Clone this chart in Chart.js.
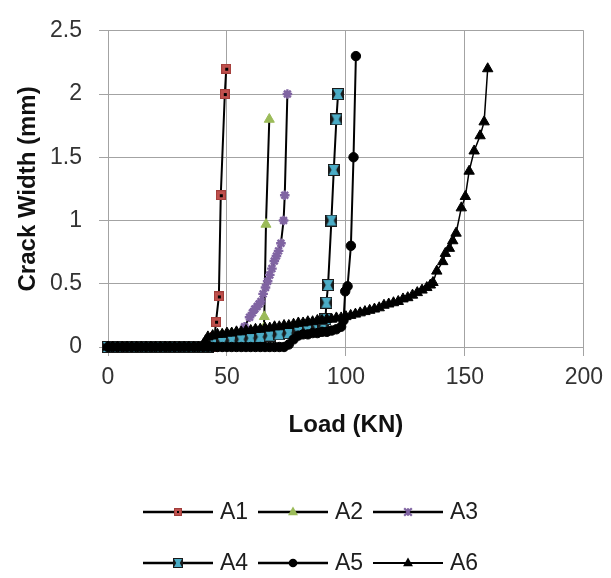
<!DOCTYPE html>
<html><head><meta charset="utf-8">
<script src="https://cdn.jsdelivr.net/npm/chart.js@4/dist/chart.umd.min.js"></script>
<style>html,body{margin:0;padding:0;background:#fff}#wrap{width:611px;height:578px;position:relative}</style>
</head><body><div id="wrap"><canvas id="c" width="611" height="578"></canvas></div>
<script>
// ---- data ----
const seriesNames = ['A1','A2','A3','A4','A5','A6'];
const xTicks = [0,50,100,150,200];
const yTicks = [0,0.5,1,1.5,2,2.5];
const xTitle = 'Load (KN)';
const yTitle = 'Crack Width (mm)';

const a1Load  = [0,3,6,9,12,15,18,21,24,27,30,33,36,39,42,44,44.8,45.4,46.6,47.4,49.1,49.7];
const a1Width = [0,0,0,0,0,0,0,0,0,0,0,0,0,0,0,0,0.08,0.2,0.4,1.2,2.0,2.2];

const a2Load  = [0,4,8,12,16,20,24,28,32,36,40,42,44,48,52,56,60,64,65.5,65.7,66.4,67.8];
const a2Width = [0,0,0,0,0,0,0,0,0,0,0,0.04,0.08,0.1,0.11,0.12,0.13,0.14,0.15,0.24,0.97,1.8];

const a3Load  = [0,4,8,12,16,20,24,28,32,36,40,44,48,52,56,57.4,59.5,60.7,61.7,62.7,63.5,64.3,65.2,66.2,67.1,68,68.9,69.9,70.8,71.7,72.7,73.8,74.3,75.4];
const a3Width = [0,0,0,0,0,0,0,0,0,0,0,0,0,0.05,0.1,0.16,0.235,0.27,0.3,0.32,0.34,0.36,0.42,0.47,0.52,0.57,0.62,0.68,0.72,0.76,0.82,1.0,1.2,2.0];

const a4Load  = [0,3,6,9,12,15,18,21,24,27,30,33,36,39,42,45,48,52,56,60,64,68,72,76,80,84,88,90.5,91.4,91.8,92.5,93.9,94.9,96,96.7];
const a4Width = [0,0,0,0,0,0,0,0,0,0,0,0,0,0,0,0.02,0.04,0.05,0.06,0.07,0.08,0.09,0.1,0.11,0.12,0.13,0.15,0.17,0.22,0.35,0.49,1.0,1.4,1.8,2.0];

const a5Load  = [0,2,4,6,8,10,12,14,16,18,20,22,24,26,28,30,32,34,36,38,40,42,44,46,48,50,52,54,56,58,60,62,64,66,68,70,72,74,
                 76,78,80,82,84,86,88,90,92,94,96,98,99,99.7,100.7,102.1,103.2,104.2];
const a5Width = [0,0,0,0,0,0,0,0,0,0,0,0,0,0,0,0,0,0,0,0,0,0,0,0,0,0,0,0,0,0,0,0,0,0,0,0,0,0,
                 0.02,0.06,0.09,0.1,0.1,0.11,0.11,0.12,0.12,0.13,0.14,0.16,0.21,0.44,0.48,0.8,1.5,2.3];

const a6Load  = [0,2,4,6,8,10,12,14,16,18,20,22,24,26,28,30,32,34,36,38,40,41,42,
                 44,46,48,50,52,54,56,58,60,62,64,66,68,70,72,74,76,78,80,82,84,86,88,90,92,94,96,98,100,102,
                 104,106,108,110,112,114,116,118,120,122,124,126,128,130,132,134,
                 135.5,136.6,138.2,140.7,141.8,143.5,144.9,146.3,148.5,150.2,151.8,153.9,156.4,158.1,159.6];
const a6Width = [0,0,0,0,0,0,0,0,0,0,0,0,0,0,0,0,0,0,0,0,0.02,0.05,0.08,
                 0.09,0.1,0.1,0.11,0.11,0.12,0.12,0.13,0.13,0.14,0.14,0.15,0.15,0.16,0.16,0.17,0.17,0.18,0.19,0.19,0.2,0.2,0.21,0.21,0.22,0.22,0.23,0.23,0.24,0.25,
                 0.26,0.27,0.28,0.29,0.3,0.31,0.33,0.34,0.35,0.36,0.38,0.39,0.41,0.43,0.45,0.47,
                 0.49,0.51,0.6,0.675,0.74,0.78,0.84,0.9,1.1,1.19,1.39,1.55,1.67,1.78,2.2];

// ---- helpers ----
function pts(xs, ys){ const n = Math.min(xs.length, ys.length); const out=[]; for(let i=0;i<n;i++) out.push({x:xs[i], y:ys[i]}); return out; }

function markerA1(s){
  const c=document.createElement('canvas'); c.width=c.height=s; const g=c.getContext('2d');
  g.fillStyle='#C0504D'; g.fillRect(0,0,s,s);
  g.strokeStyle='#a03d3a'; g.lineWidth=1; g.strokeRect(0.5,0.5,s-1,s-1);
  g.fillStyle='#000'; const d=Math.max(2,Math.round(s/4)); g.fillRect(Math.round((s-d)/2),Math.round((s-d)/2),d,d);
  return c;
}
function markerA4(s){
  const c=document.createElement('canvas'); c.width=c.height=s; const g=c.getContext('2d');
  g.fillStyle='#1a1a1a'; g.fillRect(0,0,s,s);
  g.fillStyle='#4BACC6';
  g.beginPath(); g.moveTo(1,1); g.lineTo(s-1,1); g.lineTo(s-1-s*0.22,s/2); g.lineTo(s-1,s-1); g.lineTo(1,s-1); g.lineTo(1+s*0.22,s/2); g.closePath(); g.fill();
  return c;
}
const mA1 = markerA1(10), mA4 = markerA4(12);
const lA1 = markerA1(8), lA4 = markerA4(10);

const FONT = "'Liberation Sans', Arial, Helvetica, sans-serif";
const GRID = '#a3a3a3';

const datasets = [
  {label:seriesNames[0], data:pts(a1Load,a1Width), pointStyle:mA1, pointRadius:5, borderColor:'#000', borderWidth:2, order:6},
  {label:seriesNames[1], data:pts(a2Load,a2Width), pointStyle:'triangle', pointRadius:5.8, pointBackgroundColor:'#9BBB59', pointBorderColor:'#9BBB59', pointBorderWidth:1, borderColor:'#000', borderWidth:2, order:5},
  {label:seriesNames[2], data:pts(a3Load,a3Width), pointStyle:'star', pointRadius:4.8, pointBackgroundColor:'#8064A2', pointBorderColor:'#8064A2', pointBorderWidth:2.4, borderColor:'#000', borderWidth:2, order:4},
  {label:seriesNames[3], data:pts(a4Load,a4Width), pointStyle:mA4, pointRadius:6, borderColor:'#000', borderWidth:2, order:3},
  {label:seriesNames[4], data:pts(a5Load,a5Width), pointStyle:'circle', pointRadius:4.7, pointBackgroundColor:'#000', pointBorderColor:'#000', pointBorderWidth:1, borderColor:'#000', borderWidth:2, order:2},
  {label:seriesNames[5], data:pts(a6Load,a6Width), pointStyle:'triangle', pointRadius:6, pointBackgroundColor:'#000', pointBorderColor:'#000', pointBorderWidth:1, borderColor:'#000', borderWidth:1.5, order:1}
];
datasets.forEach(d=>{ d.showLine=true; d.tension=0; d.clip=false; d.pointHoverRadius=d.pointRadius; });

// custom legend: line with marker in the middle, two rows of three
const legendPlugin = {
  id:'lineLegend',
  afterDraw(chart){
    const ctx=chart.ctx; const rows=[512,563]; const cols=[143,258,373]; const len=70;
    ctx.save();
    chart.data.datasets.forEach((ds,i)=>{
      const x0=cols[i%3], y=rows[Math.floor(i/3)], xm=x0+len/2;
      ctx.strokeStyle='#000'; ctx.lineWidth = (i===5)?2:2.6;
      ctx.beginPath(); ctx.moveTo(x0,y); ctx.lineTo(x0+len,y); ctx.stroke();
      if(i===0){ ctx.drawImage(lA1, xm-lA1.width/2, y-lA1.height/2); }
      else if(i===3){ ctx.drawImage(lA4, xm-lA4.width/2, y-lA4.height/2); }
      else if(i===1 || i===5){
        const r=5.5; ctx.fillStyle = i===1?'#9BBB59':'#000';
        ctx.beginPath(); ctx.moveTo(xm,y-r); ctx.lineTo(xm+r*0.9,y+r*0.6); ctx.lineTo(xm-r*0.9,y+r*0.6); ctx.closePath(); ctx.fill();
      } else if(i===2){
        ctx.strokeStyle='#8064A2'; ctx.lineWidth=2.2; const r=3.8;
        ctx.beginPath(); ctx.moveTo(xm-r,y-r); ctx.lineTo(xm+r,y+r); ctx.moveTo(xm+r,y-r); ctx.lineTo(xm-r,y+r);
        ctx.moveTo(xm,y-r); ctx.lineTo(xm,y+r); ctx.stroke();
      } else if(i===4){
        ctx.fillStyle='#000'; ctx.beginPath(); ctx.arc(xm,y,4.3,0,Math.PI*2); ctx.fill();
      }
      ctx.fillStyle='#1e1e1e'; ctx.font='23px '+FONT; ctx.textBaseline='middle'; ctx.textAlign='left';
      ctx.fillText(ds.label, x0+len+7, y+1);
    });
    ctx.restore();
  }
};

new Chart(document.getElementById('c'), {
  type:'scatter',
  data:{datasets},
  plugins:[legendPlugin],
  options:{
    responsive:false, animation:false, devicePixelRatio:1,
    layout:{padding:{left:0, right:22, top:25, bottom:130}},
    plugins:{legend:{display:false}, tooltip:{enabled:false}},
    scales:{
      x:{
        type:'linear', min:0, max:200,
        afterFit(s){ s.height = 101; },
        afterBuildTicks(s){ s.ticks = xTicks.map(v=>({value:v})); },
        ticks:{ color:'#333', font:{family:FONT, size:23}, padding:8, maxRotation:0, autoSkip:false, callback:v=>String(v) },
        grid:{ color:GRID, lineWidth:1, tickLength:9, drawTicks:true },
        border:{ display:true, color:GRID, width:1 },
        title:{ display:true, text:xTitle, color:'#111', font:{family:FONT, size:24, weight:'bold'}, padding:{top:0,bottom:8} }
      },
      y:{
        type:'linear', min:0, max:2.5,
        afterFit(s){ s.width = 108; },
        afterBuildTicks(s){ s.ticks = yTicks.map(v=>({value:v})); },
        ticks:{ color:'#333', font:{family:FONT, size:23}, padding:17, autoSkip:false, callback:v=>String(v) },
        grid:{ color:GRID, lineWidth:1, tickLength:9, drawTicks:true },
        border:{ display:true, color:GRID, width:1 },
        title:{ display:true, text:yTitle, color:'#111', font:{family:FONT, size:24, weight:'bold'}, padding:{top:14,bottom:0} }
      }
    }
  }
});
</script>
</body></html>
